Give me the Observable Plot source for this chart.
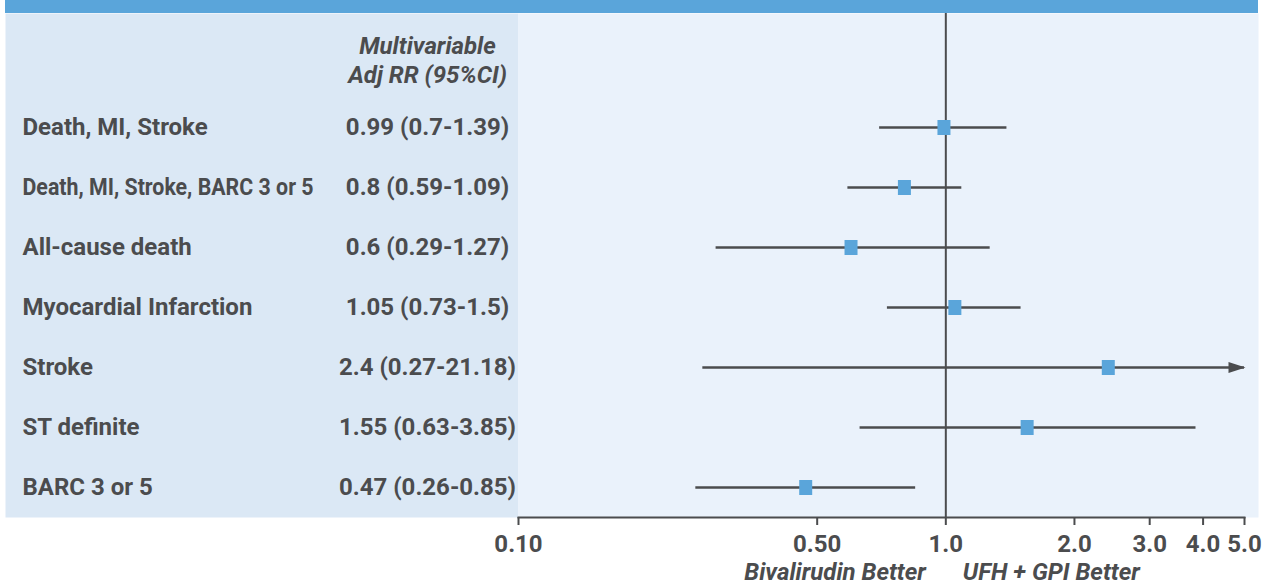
<!DOCTYPE html>
<html><head><meta charset="utf-8">
<script src="https://cdn.jsdelivr.net/npm/d3@7"></script>
<script src="https://cdn.jsdelivr.net/npm/@observablehq/plot@0.6"></script>
<style>
body{margin:0;background:#fff;font-family:Roboto,sans-serif}
#bar{margin-left:5px;width:1253px;height:13px;background:#5aa5da}
#chart svg{display:block}
</style></head><body>
<div id="bar"></div>
<div id="chart"></div>
<script>
const outcomes = ["Death, MI, Stroke","Death, MI, Stroke, BARC 3 or 5","All-cause death","Myocardial Infarction","Stroke","ST definite","BARC 3 or 5"];
const rr = [0.99, 0.8, 0.6, 1.05, 2.4, 1.55, 0.47];
const lower = [0.7, 0.59, 0.29, 0.73, 0.27, 0.63, 0.26];
const upper = [1.39, 1.09, 1.27, 1.5, 21.18, 3.85, 0.85];
const rrText = ["0.99 (0.7-1.39)","0.8 (0.59-1.09)","0.6 (0.29-1.27)","1.05 (0.73-1.5)","2.4 (0.27-21.18)","1.55 (0.63-3.85)","0.47 (0.26-0.85)"];
const headerText = ["Multivariable","Adj RR (95%CI)"];
const xTicks = [0.1, 0.5, 1, 2, 3, 4, 5];
const xTickLabels = ["0.10","0.50","1.0","2.0","3.0","4.0","5.0"];
const sideLabels = ["Bivalirudin Better","UFH + GPI Better"];
const xMin = 0.1, xMax = 5;

const data = outcomes.map((o, i) => ({outcome: o, rr: rr[i], lower: lower[i], upper: upper[i], text: rrText[i]}));

const ink = "#4b4c4e";
const fs = 24;
const squareSym = {draw(ctx){ ctx.rect(-6.5, -7.5, 13, 15); }};
const arrowSym = {draw(ctx){ ctx.moveTo(1, 0); ctx.lineTo(-16, -5.5); ctx.lineTo(-16, 5.5); ctx.closePath(); }};

const chart = Plot.plot({
  width: 1274, height: 573,
  marginLeft: 518, marginRight: 30, marginTop: 0, marginBottom: 69,
  style: {fontFamily: "Roboto, sans-serif", color: ink, background: "transparent"},
  x: {type: "log", domain: [xMin, xMax]},
  y: {type: "point", domain: outcomes, range: [114, 474], padding: 0, axis: null},
  marks: [
    Plot.frame({fill: "#dbe8f5", stroke: null, insetLeft: -513, insetRight: 726}),
    Plot.frame({fill: "#eaf2fb", stroke: null, insetRight: -14}),
    Plot.ruleX([1], {stroke: ink, strokeWidth: 2}),
    Plot.ruleY(data, {y: "outcome", x1: "lower", x2: d => Math.min(d.upper, xMax), stroke: ink, strokeWidth: 2.5}),
    Plot.dot(data.filter(d => d.upper > xMax), {y: "outcome", x: () => xMax, symbol: arrowSym, fill: ink, stroke: null}),
    Plot.dot(data, {y: "outcome", x: "rr", symbol: squareSym, fill: "#5aa5da", stroke: null}),
    Plot.text(data, {y: "outcome", text: "outcome", frameAnchor: "left", dx: -496, textAnchor: "start", fontSize: fs, fontWeight: "bold", fill: ink}),
    Plot.text(data, {y: "outcome", text: "text", frameAnchor: "left", dx: -91, textAnchor: "middle", fontSize: fs, fontWeight: "bold", fill: ink}),
    Plot.text([headerText.join("\n")], {frameAnchor: "top-left", dx: -91, dy: 46, lineAnchor: "middle", textAnchor: "middle", lineHeight: 1.17, fontSize: fs, fontWeight: "bold", fontStyle: "italic", fill: ink}),
    Plot.frame({anchor: "bottom", stroke: ink, strokeWidth: 2}),
    Plot.axisX({ticks: xTicks, tickFormat: d => xTickLabels[xTicks.indexOf(d)], tickSize: 8, tickPadding: 9, fontSize: fs, fontWeight: "bold", label: null, stroke: ink, strokeWidth: 2, fill: ink}),
    Plot.text([sideLabels[0]], {x: () => 1, frameAnchor: "bottom", dy: 55, dx: -20, lineAnchor: "middle", textAnchor: "end", fontSize: fs, fontWeight: "bold", fontStyle: "italic", fill: ink}),
    Plot.text([sideLabels[1]], {x: () => 1, frameAnchor: "bottom", dy: 55, dx: 17, lineAnchor: "middle", textAnchor: "start", fontSize: fs, fontWeight: "bold", fontStyle: "italic", fill: ink})
  ]
});
d3.select(chart).selectAll("text").filter(function(){ return this.textContent === outcomes[1]; })
  .attr("textLength", 291).attr("lengthAdjust", "spacingAndGlyphs");
document.getElementById("chart").appendChild(chart);
</script>
</body></html>
